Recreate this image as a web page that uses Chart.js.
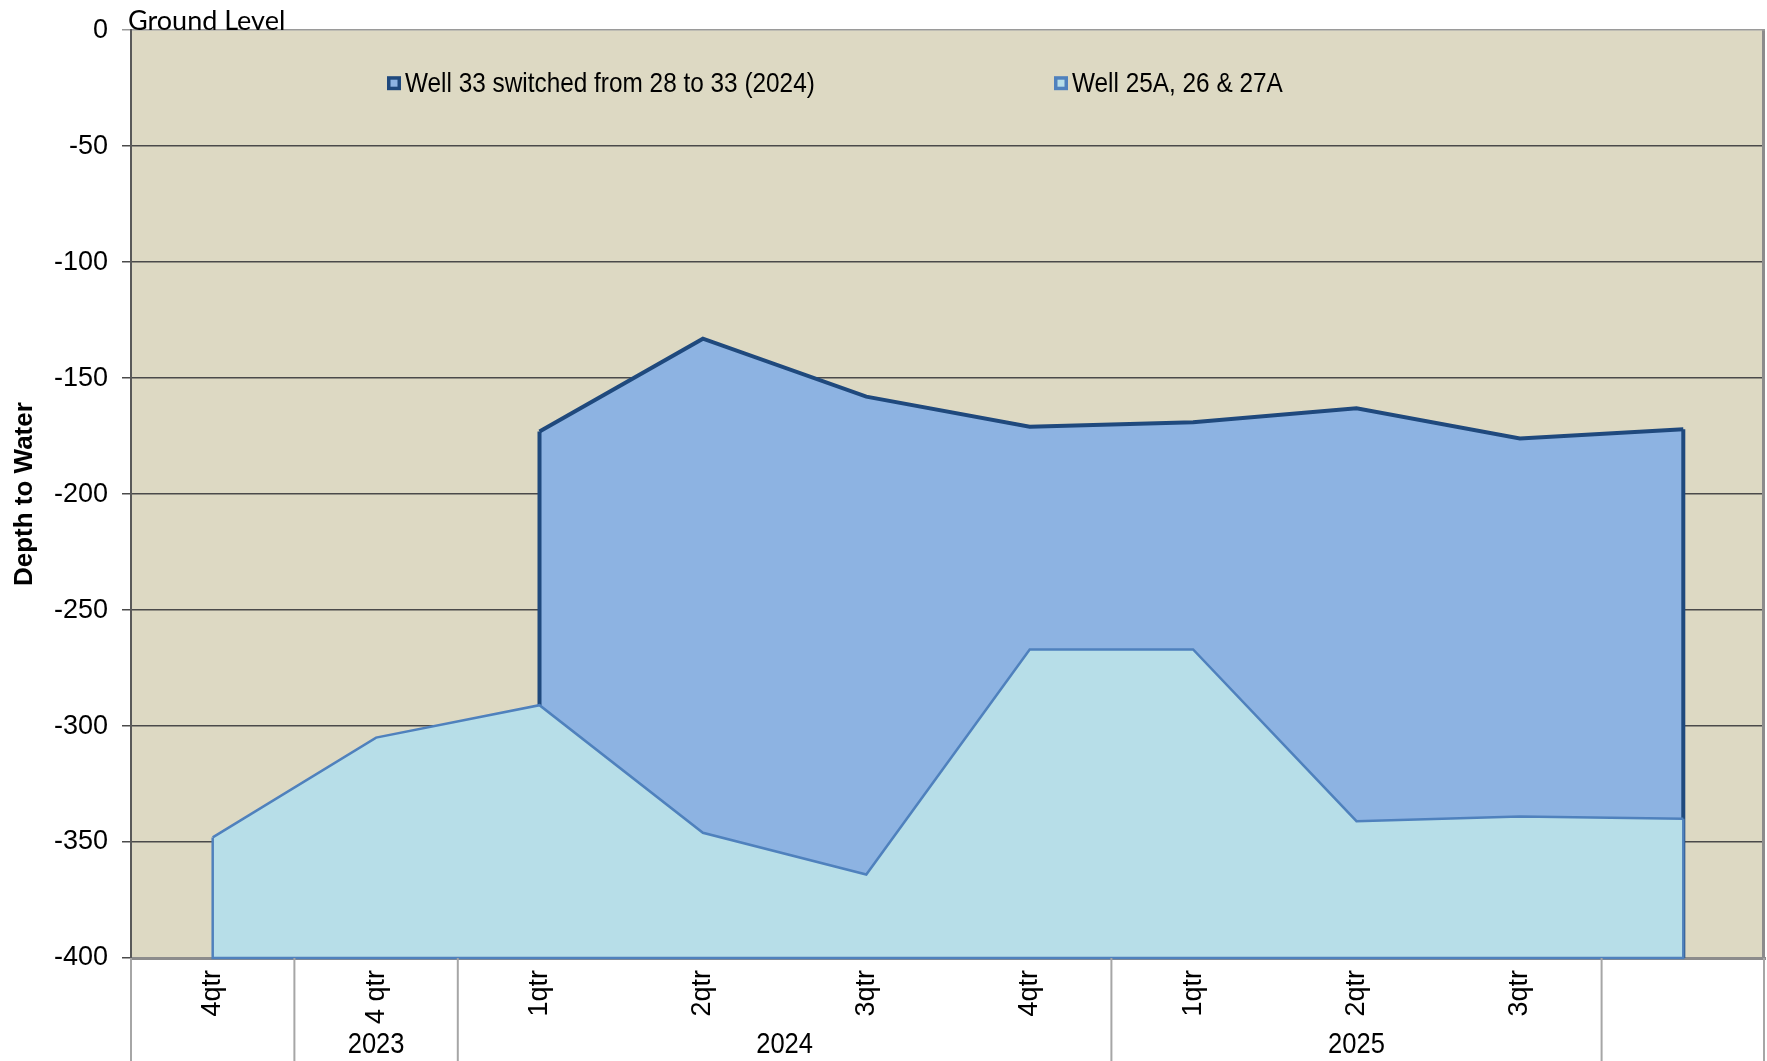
<!DOCTYPE html>
<html>
<head>
<meta charset="utf-8">
<script src="https://cdn.jsdelivr.net/npm/chart.js@4.4.1/dist/chart.umd.min.js"></script>
<style>
html,body{margin:0;padding:0;background:#fff;}
#wrap{position:relative;width:1767px;height:1061px;}
</style>
</head>
<body>
<div id="wrap"><canvas id="c"></canvas></div>
<script>
// ── data ────────────────────────────────────────────────────────────────────
const quarters  = ["4qtr","4 qtr","1qtr","2qtr","3qtr","4qtr","1qtr","2qtr","3qtr",""];
const years     = ["","2023","2024","2025",""];
const yearSpans = [1,1,4,3,1];
const well33    = [null,null,-173,-133,-158,-171,-169,-163,-176,-172];
const well25    = [-348,-305,-291,-346,-364,-267,-267,-341,-339,-340];
const Y_MIN = -400, Y_MAX = 0, Y_STEP = 50;

const C = { plot:"#DDD9C3", dark:"#1F497D", darkFill:"#8DB3E2", light:"#4F81BD", lightFill:"#B7DEE8",
            grid:"#4a4a4a", top:"#9a9a9a", frame:"#8c8c8c", axis:"#595959", sep:"#a6a6a6", ink:"#000" };
const SANS = '"Liberation Sans", Arial, sans-serif';

// condensed-looking text: no narrow face installed, so squeeze horizontally
function narrowText(ctx, txt, x, y, sx){
  ctx.save(); ctx.translate(x, y); ctx.scale(sx, 1); ctx.fillText(txt, 0, 0); ctx.restore();
}

// ---- plugins ----
const plotBg = { id:"plotBg", beforeDraw(chart){
  const {ctx, chartArea:a} = chart;
  ctx.save(); ctx.fillStyle = C.plot; ctx.fillRect(a.left, a.top, a.right-a.left, a.bottom-a.top); ctx.restore();
}};

// vertical ends (and bottom edge) of each area, stroked in the dataset's own colour
const areaEdges = { id:"areaEdges", afterDatasetDraw(chart, args){
  const {ctx, chartArea:a} = chart;
  const ds = chart.data.datasets[args.index];
  const pts = args.meta.data.filter(p => !p.skip);
  if(!pts.length) return;
  const f = pts[0], l = pts[pts.length-1];
  ctx.save();
  ctx.strokeStyle = ds.borderColor; ctx.lineWidth = ds.borderWidth; ctx.lineJoin = "miter";
  ctx.beginPath();
  ctx.moveTo(f.x, f.y); ctx.lineTo(f.x, a.bottom);
  if(ds.closeBottom) ctx.lineTo(l.x, a.bottom); else ctx.moveTo(l.x, a.bottom);
  ctx.lineTo(l.x, l.y);
  ctx.stroke(); ctx.restore();
}};

const frame = { id:"frame", afterDatasetsDraw(chart){
  const {ctx, chartArea:a} = chart;
  ctx.save(); ctx.strokeStyle = C.frame; ctx.lineWidth = 3;
  ctx.beginPath(); ctx.moveTo(a.right-1.5, a.top); ctx.lineTo(a.right-1.5, a.bottom); ctx.stroke();
  ctx.restore();
}};

const extras = { id:"extras", afterDraw(chart){
  const {ctx, chartArea:a} = chart;
  const xs = chart.scales.x;
  const step = xs.getPixelForValue(1) - xs.getPixelForValue(0);
  ctx.save();
  // year groups
  ctx.strokeStyle = C.sep; ctx.lineWidth = 2;
  ctx.fillStyle = C.ink; ctx.font = `29px ${SANS}`; ctx.textAlign = "center"; ctx.textBaseline = "middle";
  let i0 = 0;
  years.forEach((y, g) => {
    const i1 = i0 + yearSpans[g];
    const left = xs.getPixelForValue(i0) - step/2, right = xs.getPixelForValue(i1-1) + step/2;
    ctx.beginPath(); ctx.moveTo(left, a.bottom); ctx.lineTo(left, chart.height); ctx.stroke();
    if(g === years.length-1){ ctx.beginPath(); ctx.moveTo(right-1, a.bottom); ctx.lineTo(right-1, chart.height); ctx.stroke(); }
    if(y) narrowText(ctx, y, (left+right)/2, chart.height - 16, 0.88);
    i0 = i1;
  });
  // legend
  const items = [{ds:chart.data.datasets[0], x:a.left+256}, {ds:chart.data.datasets[1], x:a.left+923}];
  const ly = a.top + 53;
  ctx.textAlign = "left"; ctx.font = `28px ${SANS}`;
  items.forEach(it => {
    ctx.fillStyle = it.ds.borderColor; ctx.fillRect(it.x, ly-7, 14, 14);
    ctx.fillStyle = it.ds.backgroundColor; ctx.fillRect(it.x+3.5, ly-3.5, 7, 7);
    ctx.fillStyle = C.ink; narrowText(ctx, it.ds.label, it.x+18, ly+1, 0.87);
  });
  // ground level note
  ctx.font = `27px Lato, "Open Sans", sans-serif`; ctx.textBaseline = "alphabetic";
  ctx.fillText("Ground Level", a.left-3, a.top);
  ctx.restore();
}};

new Chart(document.getElementById("c"), {
  type:"line",
  data:{ labels:quarters, datasets:[
    { label:"Well 33 switched from 28 to 33 (2024)", data:well33, borderColor:C.dark, backgroundColor:C.darkFill,
      borderWidth:4, fill:"start", order:1, pointRadius:0, tension:0 },
    { label:"Well 25A, 26 & 27A", data:well25, borderColor:C.light, backgroundColor:C.lightFill,
      borderWidth:2.5, fill:"start", order:0, pointRadius:0, tension:0, closeBottom:true },
  ]},
  options:{
    responsive:true, maintainAspectRatio:false, animation:false,
    layout:{ padding:{ top:28, right:2, left:0, bottom:0 } },
    plugins:{ legend:{ display:false }, tooltip:{ enabled:false } },
    scales:{
      x:{ offset:true, grid:{ display:false }, border:{ display:true, color:C.frame, width:3 },
          ticks:{ minRotation:90, maxRotation:90, autoSkip:false, padding:4, color:C.ink, font:{ family:SANS, size:27 } },
          afterFit:s=>{ s.height = 103; } },
      y:{ min:Y_MIN, max:Y_MAX,
          ticks:{ stepSize:Y_STEP, padding:14, color:C.ink, font:{ family:SANS, size:27 } },
          grid:{ color:c=>c.tick && c.tick.value===Y_MAX ? C.top : C.grid, lineWidth:1.5, tickLength:9 },
          border:{ color:C.axis, width:2 },
          title:{ display:true, text:"Depth to Water", color:C.ink, font:{ family:SANS, size:26, weight:"bold" }, padding:{ top:9, bottom:0 } },
          afterFit:s=>{ s.width = 131; } },
    },
  },
  plugins:[plotBg, areaEdges, frame, extras],
});
</script>
</body>
</html>
